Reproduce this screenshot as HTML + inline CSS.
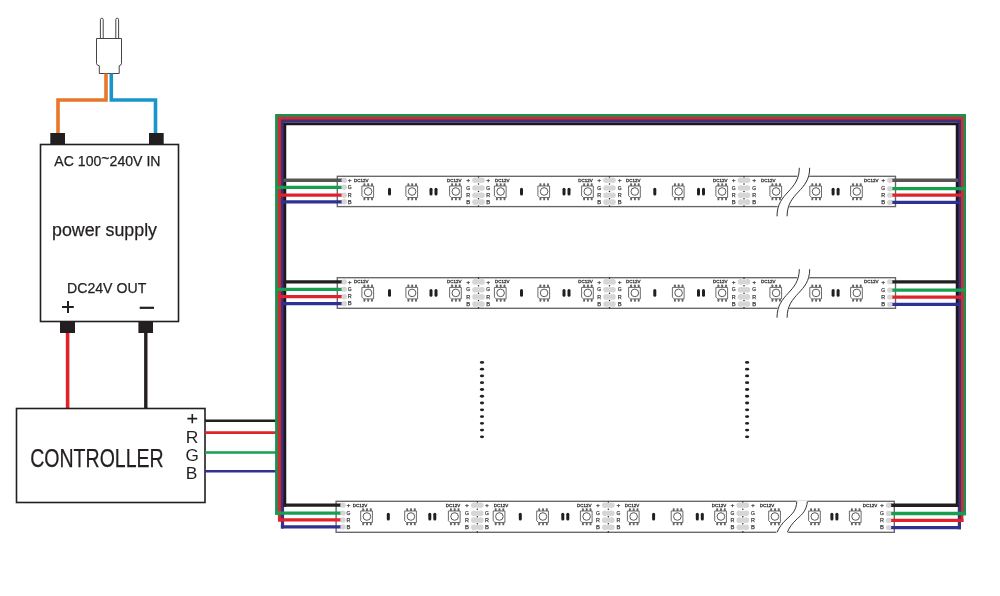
<!DOCTYPE html><html><head><meta charset="utf-8"><style>html,body{margin:0;padding:0;background:#fff;width:1000px;height:596px;overflow:hidden}svg{display:block;will-change:transform}text{font-family:"Liberation Sans",sans-serif}</style></head><body>
<svg width="1000" height="596" viewBox="0 0 1000 596">
<g fill="none" stroke="#444" stroke-width="1">
<path d="M96.5 38.5 H121.5 V63.5 Q121.5 65.2 119.2 65.8 V73.5 H99.3 V65.8 Q96.5 65.2 96.5 63.5 Z" fill="#fff"/>
<path d="M100.4 38.5 V19.6 A1.4 1.4 0 0 1 103.2 19.6 V38.5"/>
<path d="M115.8 38.5 V19.6 A1.4 1.4 0 0 1 118.6 19.6 V38.5"/>
</g>
<path d="M106 73.5 V100 H58 V134" fill="none" stroke="#e8772a" stroke-width="3.6"/>
<path d="M111.3 73.5 V100 H155.5 V134" fill="none" stroke="#1a95cb" stroke-width="3.6"/>
<rect x="50.3" y="133" width="14.7" height="11.5" fill="#231f20"/>
<rect x="149" y="133" width="14.7" height="11.5" fill="#231f20"/>
<rect x="40.5" y="144.5" width="138" height="177" fill="none" stroke="#231f20" stroke-width="1.6"/>
<text x="54.3" y="165.8" font-size="14.1" fill="#231f20" stroke="#231f20" stroke-width="0.25">AC 100<tspan dy="-3.2">~</tspan><tspan dy="3.2">240V IN</tspan></text>
<text x="52" y="236.2" font-size="18" fill="#231f20" stroke="#231f20" stroke-width="0.25" textLength="105" lengthAdjust="spacingAndGlyphs">power supply</text>
<text x="67" y="293.1" font-size="14.4" fill="#231f20" stroke="#231f20" stroke-width="0.25" textLength="79.3" lengthAdjust="spacingAndGlyphs">DC24V OUT</text>
<path d="M62 307 H73.8 M68 301 V313" stroke="#231f20" stroke-width="2"/>
<path d="M139.7 307.8 H154" stroke="#231f20" stroke-width="2.2"/>
<rect x="60" y="321" width="15" height="12" fill="#231f20"/>
<rect x="138.4" y="321" width="14.6" height="12" fill="#231f20"/>
<path d="M67.6 333 V408" stroke="#e0232b" stroke-width="3.6"/>
<path d="M145.8 333 V408" stroke="#231f20" stroke-width="3.4"/>
<rect x="16.5" y="408.5" width="188.5" height="94" fill="none" stroke="#231f20" stroke-width="1.6"/>
<text x="30.2" y="467" font-size="25" fill="#231f20" stroke="#231f20" stroke-width="0.25" textLength="133.5" lengthAdjust="spacingAndGlyphs">CONTROLLER</text>
<path d="M187.4 418.6 H197.2 M192.3 414 V423.2" stroke="#231f20" stroke-width="1.6"/>
<text transform="translate(185.7 442.7) scale(1.12 1)" font-size="15.6" fill="#231f20">R</text>
<text transform="translate(185.6 460.9) scale(1.1 1)" font-size="15.6" fill="#231f20">G</text>
<text transform="translate(185.8 479.4) scale(1.12 1)" font-size="15.6" fill="#231f20">B</text>
<path d="M205 420.7 H276" stroke="#231f20" stroke-width="2.6"/>
<path d="M205 432.6 H276" stroke="#e0232b" stroke-width="2.6"/>
<path d="M205 452.5 H276" stroke="#16a04e" stroke-width="2.6"/>
<path d="M205 471.2 H276" stroke="#2e3192" stroke-width="2.6"/>
<path d="M276.7 514.75 V115.6 H964.4 V515.15" fill="none" stroke="#1f8f50" stroke-width="3.2"/>
<path d="M279.5 521.6 V118.4 H961.8 V522.05" fill="none" stroke="#d02a32" stroke-width="3.2"/>
<path d="M282.5 528.55 V121.2 H959.4 V529.25" fill="none" stroke="#40307a" stroke-width="3.2"/>
<path d="M284.9 506.8 V124 H957.1 V506.9" fill="none" stroke="#1c171c" stroke-width="2.7"/>
<ellipse cx="482" cy="362.40" rx="2.1" ry="1.4" fill="#231f20"/>
<ellipse cx="482" cy="369.17" rx="2.1" ry="1.4" fill="#231f20"/>
<ellipse cx="482" cy="375.94" rx="2.1" ry="1.4" fill="#231f20"/>
<ellipse cx="482" cy="382.71" rx="2.1" ry="1.4" fill="#231f20"/>
<ellipse cx="482" cy="389.48" rx="2.1" ry="1.4" fill="#231f20"/>
<ellipse cx="482" cy="396.25" rx="2.1" ry="1.4" fill="#231f20"/>
<ellipse cx="482" cy="403.02" rx="2.1" ry="1.4" fill="#231f20"/>
<ellipse cx="482" cy="409.79" rx="2.1" ry="1.4" fill="#231f20"/>
<ellipse cx="482" cy="416.56" rx="2.1" ry="1.4" fill="#231f20"/>
<ellipse cx="482" cy="423.33" rx="2.1" ry="1.4" fill="#231f20"/>
<ellipse cx="482" cy="430.10" rx="2.1" ry="1.4" fill="#231f20"/>
<ellipse cx="482" cy="436.87" rx="2.1" ry="1.4" fill="#231f20"/>
<ellipse cx="747.1" cy="362.40" rx="2.1" ry="1.4" fill="#231f20"/>
<ellipse cx="747.1" cy="369.17" rx="2.1" ry="1.4" fill="#231f20"/>
<ellipse cx="747.1" cy="375.94" rx="2.1" ry="1.4" fill="#231f20"/>
<ellipse cx="747.1" cy="382.71" rx="2.1" ry="1.4" fill="#231f20"/>
<ellipse cx="747.1" cy="389.48" rx="2.1" ry="1.4" fill="#231f20"/>
<ellipse cx="747.1" cy="396.25" rx="2.1" ry="1.4" fill="#231f20"/>
<ellipse cx="747.1" cy="403.02" rx="2.1" ry="1.4" fill="#231f20"/>
<ellipse cx="747.1" cy="409.79" rx="2.1" ry="1.4" fill="#231f20"/>
<ellipse cx="747.1" cy="416.56" rx="2.1" ry="1.4" fill="#231f20"/>
<ellipse cx="747.1" cy="423.33" rx="2.1" ry="1.4" fill="#231f20"/>
<ellipse cx="747.1" cy="430.10" rx="2.1" ry="1.4" fill="#231f20"/>
<ellipse cx="747.1" cy="436.87" rx="2.1" ry="1.4" fill="#231f20"/>
<g transform="translate(0 176.3)"><rect x="337.3" y="0" width="558.2" height="30.3" fill="#fff" stroke="#666" stroke-width="1.35"/><path d="M283.5 3.9499999999999886 H343" stroke="#555" stroke-width="3.3"/><path d="M891 3.9499999999999886 H958.3" stroke="#555" stroke-width="3.3"/><path d="M275.1 11.0 H343" stroke="#16a04e" stroke-width="3.3"/><path d="M891 12.399999999999977 H966.1" stroke="#16a04e" stroke-width="3.3"/><path d="M278.1 18.899999999999977 H343" stroke="#e0232b" stroke-width="3.3"/><path d="M891 18.899999999999977 H963.4" stroke="#e0232b" stroke-width="3.3"/><path d="M280.9 25.5 H343" stroke="#2e3192" stroke-width="3.3"/><path d="M891 26.099999999999994 H960.9" stroke="#2e3192" stroke-width="3.3"/><circle cx="344.2" cy="3.9499999999999886" r="2.7" fill="#d6d6d6"/><circle cx="344.2" cy="11.0" r="2.7" fill="#d6d6d6"/><circle cx="344.2" cy="18.899999999999977" r="2.7" fill="#d6d6d6"/><circle cx="344.2" cy="25.5" r="2.7" fill="#d6d6d6"/><circle cx="889.8" cy="3.9499999999999886" r="2.7" fill="#d6d6d6"/><circle cx="889.8" cy="12.399999999999977" r="2.7" fill="#d6d6d6"/><circle cx="889.8" cy="18.899999999999977" r="2.7" fill="#d6d6d6"/><circle cx="889.8" cy="26.099999999999994" r="2.7" fill="#d6d6d6"/><text x="347.8" y="5.7499999999999885" font-size="5.2" fill="#444" stroke="#444" stroke-width="0.25" textLength="3.9" lengthAdjust="spacingAndGlyphs">+</text><text x="347.8" y="12.8" font-size="5.2" fill="#444" stroke="#444" stroke-width="0.25" textLength="3.9" lengthAdjust="spacingAndGlyphs">G</text><text x="347.8" y="20.699999999999978" font-size="5.2" fill="#444" stroke="#444" stroke-width="0.25" textLength="3.9" lengthAdjust="spacingAndGlyphs">R</text><text x="347.8" y="27.3" font-size="5.2" fill="#444" stroke="#444" stroke-width="0.25" textLength="3.9" lengthAdjust="spacingAndGlyphs">B</text><text x="466.3" y="5.7499999999999885" font-size="5.2" fill="#444" stroke="#444" stroke-width="0.25" textLength="3.9" lengthAdjust="spacingAndGlyphs">+</text><text x="466.3" y="13.49999999999999" font-size="5.2" fill="#444" stroke="#444" stroke-width="0.25" textLength="3.9" lengthAdjust="spacingAndGlyphs">G</text><text x="466.3" y="20.699999999999978" font-size="5.2" fill="#444" stroke="#444" stroke-width="0.25" textLength="3.9" lengthAdjust="spacingAndGlyphs">R</text><text x="466.3" y="27.599999999999998" font-size="5.2" fill="#444" stroke="#444" stroke-width="0.25" textLength="3.9" lengthAdjust="spacingAndGlyphs">B</text><text x="486.3" y="5.7499999999999885" font-size="5.2" fill="#444" stroke="#444" stroke-width="0.25" textLength="3.9" lengthAdjust="spacingAndGlyphs">+</text><text x="486.3" y="13.49999999999999" font-size="5.2" fill="#444" stroke="#444" stroke-width="0.25" textLength="3.9" lengthAdjust="spacingAndGlyphs">G</text><text x="486.3" y="20.699999999999978" font-size="5.2" fill="#444" stroke="#444" stroke-width="0.25" textLength="3.9" lengthAdjust="spacingAndGlyphs">R</text><text x="486.3" y="27.599999999999998" font-size="5.2" fill="#444" stroke="#444" stroke-width="0.25" textLength="3.9" lengthAdjust="spacingAndGlyphs">B</text><text x="597.3" y="5.7499999999999885" font-size="5.2" fill="#444" stroke="#444" stroke-width="0.25" textLength="3.9" lengthAdjust="spacingAndGlyphs">+</text><text x="597.3" y="13.49999999999999" font-size="5.2" fill="#444" stroke="#444" stroke-width="0.25" textLength="3.9" lengthAdjust="spacingAndGlyphs">G</text><text x="597.3" y="20.699999999999978" font-size="5.2" fill="#444" stroke="#444" stroke-width="0.25" textLength="3.9" lengthAdjust="spacingAndGlyphs">R</text><text x="597.3" y="27.599999999999998" font-size="5.2" fill="#444" stroke="#444" stroke-width="0.25" textLength="3.9" lengthAdjust="spacingAndGlyphs">B</text><text x="617.8" y="5.7499999999999885" font-size="5.2" fill="#444" stroke="#444" stroke-width="0.25" textLength="3.9" lengthAdjust="spacingAndGlyphs">+</text><text x="617.8" y="13.49999999999999" font-size="5.2" fill="#444" stroke="#444" stroke-width="0.25" textLength="3.9" lengthAdjust="spacingAndGlyphs">G</text><text x="617.8" y="20.699999999999978" font-size="5.2" fill="#444" stroke="#444" stroke-width="0.25" textLength="3.9" lengthAdjust="spacingAndGlyphs">R</text><text x="617.8" y="27.599999999999998" font-size="5.2" fill="#444" stroke="#444" stroke-width="0.25" textLength="3.9" lengthAdjust="spacingAndGlyphs">B</text><text x="731.8" y="5.7499999999999885" font-size="5.2" fill="#444" stroke="#444" stroke-width="0.25" textLength="3.9" lengthAdjust="spacingAndGlyphs">+</text><text x="731.8" y="13.49999999999999" font-size="5.2" fill="#444" stroke="#444" stroke-width="0.25" textLength="3.9" lengthAdjust="spacingAndGlyphs">G</text><text x="731.8" y="20.699999999999978" font-size="5.2" fill="#444" stroke="#444" stroke-width="0.25" textLength="3.9" lengthAdjust="spacingAndGlyphs">R</text><text x="731.8" y="27.599999999999998" font-size="5.2" fill="#444" stroke="#444" stroke-width="0.25" textLength="3.9" lengthAdjust="spacingAndGlyphs">B</text><text x="752.3" y="5.7499999999999885" font-size="5.2" fill="#444" stroke="#444" stroke-width="0.25" textLength="3.9" lengthAdjust="spacingAndGlyphs">+</text><text x="752.3" y="13.49999999999999" font-size="5.2" fill="#444" stroke="#444" stroke-width="0.25" textLength="3.9" lengthAdjust="spacingAndGlyphs">G</text><text x="752.3" y="20.699999999999978" font-size="5.2" fill="#444" stroke="#444" stroke-width="0.25" textLength="3.9" lengthAdjust="spacingAndGlyphs">R</text><text x="752.3" y="27.599999999999998" font-size="5.2" fill="#444" stroke="#444" stroke-width="0.25" textLength="3.9" lengthAdjust="spacingAndGlyphs">B</text><text x="881.1999999999999" y="5.7499999999999885" font-size="5.2" fill="#444" stroke="#444" stroke-width="0.25" textLength="3.9" lengthAdjust="spacingAndGlyphs">+</text><text x="881.1999999999999" y="14.199999999999978" font-size="5.2" fill="#444" stroke="#444" stroke-width="0.25" textLength="3.9" lengthAdjust="spacingAndGlyphs">G</text><text x="881.1999999999999" y="20.699999999999978" font-size="5.2" fill="#444" stroke="#444" stroke-width="0.25" textLength="3.9" lengthAdjust="spacingAndGlyphs">R</text><text x="881.1999999999999" y="27.899999999999995" font-size="5.2" fill="#444" stroke="#444" stroke-width="0.25" textLength="3.9" lengthAdjust="spacingAndGlyphs">B</text><text x="354" y="5.5" font-size="4.4" fill="#333" stroke="#333" stroke-width="0.28" textLength="14.5" lengthAdjust="spacingAndGlyphs">DC12V</text><text x="447" y="5.5" font-size="4.4" fill="#333" stroke="#333" stroke-width="0.28" textLength="14.5" lengthAdjust="spacingAndGlyphs">DC12V</text><text x="495" y="5.5" font-size="4.4" fill="#333" stroke="#333" stroke-width="0.28" textLength="14.5" lengthAdjust="spacingAndGlyphs">DC12V</text><text x="578.2" y="5.5" font-size="4.4" fill="#333" stroke="#333" stroke-width="0.28" textLength="14.5" lengthAdjust="spacingAndGlyphs">DC12V</text><text x="626" y="5.5" font-size="4.4" fill="#333" stroke="#333" stroke-width="0.28" textLength="14.5" lengthAdjust="spacingAndGlyphs">DC12V</text><text x="713" y="5.5" font-size="4.4" fill="#333" stroke="#333" stroke-width="0.28" textLength="14.5" lengthAdjust="spacingAndGlyphs">DC12V</text><text x="761" y="5.5" font-size="4.4" fill="#333" stroke="#333" stroke-width="0.28" textLength="14.5" lengthAdjust="spacingAndGlyphs">DC12V</text><text x="864" y="5.5" font-size="4.4" fill="#333" stroke="#333" stroke-width="0.28" textLength="14.5" lengthAdjust="spacingAndGlyphs">DC12V</text><circle cx="475.0" cy="3.9499999999999886" r="2.8" fill="#d6d6d6"/><circle cx="482.0" cy="3.9499999999999886" r="2.8" fill="#d6d6d6"/><rect x="475.0" y="1.5499999999999887" width="7" height="4.8" fill="#d6d6d6"/><circle cx="475.0" cy="11.699999999999989" r="2.8" fill="#d6d6d6"/><circle cx="482.0" cy="11.699999999999989" r="2.8" fill="#d6d6d6"/><rect x="475.0" y="9.299999999999988" width="7" height="4.8" fill="#d6d6d6"/><circle cx="475.0" cy="18.899999999999977" r="2.8" fill="#d6d6d6"/><circle cx="482.0" cy="18.899999999999977" r="2.8" fill="#d6d6d6"/><rect x="475.0" y="16.49999999999998" width="7" height="4.8" fill="#d6d6d6"/><circle cx="475.0" cy="25.799999999999997" r="2.8" fill="#d6d6d6"/><circle cx="482.0" cy="25.799999999999997" r="2.8" fill="#d6d6d6"/><rect x="475.0" y="23.4" width="7" height="4.8" fill="#d6d6d6"/><circle cx="478.5" cy="0.60" r="0.75" fill="#222"/><circle cx="478.5" cy="7.82" r="0.75" fill="#222"/><circle cx="478.5" cy="15.30" r="0.75" fill="#222"/><circle cx="478.5" cy="22.35" r="0.75" fill="#222"/><circle cx="478.5" cy="29.70" r="0.75" fill="#222"/><circle cx="606.0" cy="3.9499999999999886" r="2.8" fill="#d6d6d6"/><circle cx="613.0" cy="3.9499999999999886" r="2.8" fill="#d6d6d6"/><rect x="606.0" y="1.5499999999999887" width="7" height="4.8" fill="#d6d6d6"/><circle cx="606.0" cy="11.699999999999989" r="2.8" fill="#d6d6d6"/><circle cx="613.0" cy="11.699999999999989" r="2.8" fill="#d6d6d6"/><rect x="606.0" y="9.299999999999988" width="7" height="4.8" fill="#d6d6d6"/><circle cx="606.0" cy="18.899999999999977" r="2.8" fill="#d6d6d6"/><circle cx="613.0" cy="18.899999999999977" r="2.8" fill="#d6d6d6"/><rect x="606.0" y="16.49999999999998" width="7" height="4.8" fill="#d6d6d6"/><circle cx="606.0" cy="25.799999999999997" r="2.8" fill="#d6d6d6"/><circle cx="613.0" cy="25.799999999999997" r="2.8" fill="#d6d6d6"/><rect x="606.0" y="23.4" width="7" height="4.8" fill="#d6d6d6"/><circle cx="609.5" cy="0.60" r="0.75" fill="#222"/><circle cx="609.5" cy="7.82" r="0.75" fill="#222"/><circle cx="609.5" cy="15.30" r="0.75" fill="#222"/><circle cx="609.5" cy="22.35" r="0.75" fill="#222"/><circle cx="609.5" cy="29.70" r="0.75" fill="#222"/><circle cx="740.5" cy="3.9499999999999886" r="2.8" fill="#d6d6d6"/><circle cx="747.5" cy="3.9499999999999886" r="2.8" fill="#d6d6d6"/><rect x="740.5" y="1.5499999999999887" width="7" height="4.8" fill="#d6d6d6"/><circle cx="740.5" cy="11.699999999999989" r="2.8" fill="#d6d6d6"/><circle cx="747.5" cy="11.699999999999989" r="2.8" fill="#d6d6d6"/><rect x="740.5" y="9.299999999999988" width="7" height="4.8" fill="#d6d6d6"/><circle cx="740.5" cy="18.899999999999977" r="2.8" fill="#d6d6d6"/><circle cx="747.5" cy="18.899999999999977" r="2.8" fill="#d6d6d6"/><rect x="740.5" y="16.49999999999998" width="7" height="4.8" fill="#d6d6d6"/><circle cx="740.5" cy="25.799999999999997" r="2.8" fill="#d6d6d6"/><circle cx="747.5" cy="25.799999999999997" r="2.8" fill="#d6d6d6"/><rect x="740.5" y="23.4" width="7" height="4.8" fill="#d6d6d6"/><circle cx="744" cy="0.60" r="0.75" fill="#222"/><circle cx="744" cy="7.82" r="0.75" fill="#222"/><circle cx="744" cy="15.30" r="0.75" fill="#222"/><circle cx="744" cy="22.35" r="0.75" fill="#222"/><circle cx="744" cy="29.70" r="0.75" fill="#222"/><rect x="363.45" y="6.9" width="1.9" height="2.8" rx="0.6" fill="#666"/><rect x="363.45" y="21.2" width="1.9" height="2.8" rx="0.6" fill="#666"/><rect x="367.25" y="6.9" width="1.9" height="2.8" rx="0.6" fill="#666"/><rect x="367.25" y="21.2" width="1.9" height="2.8" rx="0.6" fill="#666"/><rect x="371.05" y="6.9" width="1.9" height="2.8" rx="0.6" fill="#666"/><rect x="371.05" y="21.2" width="1.9" height="2.8" rx="0.6" fill="#666"/><path d="M361.9 9.7 H373.6 V21.2 H363.7 L361.9 19.4 Z" fill="#fff" stroke="#5a5a5a" stroke-width="0.9"/><circle cx="368.1" cy="15.2" r="3.8" fill="none" stroke="#505050" stroke-width="0.95"/><rect x="407.45" y="6.9" width="1.9" height="2.8" rx="0.6" fill="#666"/><rect x="407.45" y="21.2" width="1.9" height="2.8" rx="0.6" fill="#666"/><rect x="411.25" y="6.9" width="1.9" height="2.8" rx="0.6" fill="#666"/><rect x="411.25" y="21.2" width="1.9" height="2.8" rx="0.6" fill="#666"/><rect x="415.05" y="6.9" width="1.9" height="2.8" rx="0.6" fill="#666"/><rect x="415.05" y="21.2" width="1.9" height="2.8" rx="0.6" fill="#666"/><path d="M405.9 9.7 H417.6 V21.2 H407.7 L405.9 19.4 Z" fill="#fff" stroke="#5a5a5a" stroke-width="0.9"/><circle cx="412.1" cy="15.2" r="3.8" fill="none" stroke="#505050" stroke-width="0.95"/><rect x="451.15" y="6.9" width="1.9" height="2.8" rx="0.6" fill="#666"/><rect x="451.15" y="21.2" width="1.9" height="2.8" rx="0.6" fill="#666"/><rect x="454.95" y="6.9" width="1.9" height="2.8" rx="0.6" fill="#666"/><rect x="454.95" y="21.2" width="1.9" height="2.8" rx="0.6" fill="#666"/><rect x="458.75" y="6.9" width="1.9" height="2.8" rx="0.6" fill="#666"/><rect x="458.75" y="21.2" width="1.9" height="2.8" rx="0.6" fill="#666"/><path d="M449.59999999999997 9.7 H461.3 V21.2 H451.4 L449.59999999999997 19.4 Z" fill="#fff" stroke="#5a5a5a" stroke-width="0.9"/><circle cx="455.8" cy="15.2" r="3.8" fill="none" stroke="#505050" stroke-width="0.95"/><rect x="495.95" y="6.9" width="1.9" height="2.8" rx="0.6" fill="#666"/><rect x="495.95" y="21.2" width="1.9" height="2.8" rx="0.6" fill="#666"/><rect x="499.75" y="6.9" width="1.9" height="2.8" rx="0.6" fill="#666"/><rect x="499.75" y="21.2" width="1.9" height="2.8" rx="0.6" fill="#666"/><rect x="503.55" y="6.9" width="1.9" height="2.8" rx="0.6" fill="#666"/><rect x="503.55" y="21.2" width="1.9" height="2.8" rx="0.6" fill="#666"/><path d="M494.4 9.7 H506.1 V21.2 H496.2 L494.4 19.4 Z" fill="#fff" stroke="#5a5a5a" stroke-width="0.9"/><circle cx="500.6" cy="15.2" r="3.8" fill="none" stroke="#505050" stroke-width="0.95"/><rect x="539.45" y="6.9" width="1.9" height="2.8" rx="0.6" fill="#666"/><rect x="539.45" y="21.2" width="1.9" height="2.8" rx="0.6" fill="#666"/><rect x="543.25" y="6.9" width="1.9" height="2.8" rx="0.6" fill="#666"/><rect x="543.25" y="21.2" width="1.9" height="2.8" rx="0.6" fill="#666"/><rect x="547.0500000000001" y="6.9" width="1.9" height="2.8" rx="0.6" fill="#666"/><rect x="547.0500000000001" y="21.2" width="1.9" height="2.8" rx="0.6" fill="#666"/><path d="M537.9 9.7 H549.6 V21.2 H539.7 L537.9 19.4 Z" fill="#fff" stroke="#5a5a5a" stroke-width="0.9"/><circle cx="544.1" cy="15.2" r="3.8" fill="none" stroke="#505050" stroke-width="0.95"/><rect x="583.1500000000001" y="6.9" width="1.9" height="2.8" rx="0.6" fill="#666"/><rect x="583.1500000000001" y="21.2" width="1.9" height="2.8" rx="0.6" fill="#666"/><rect x="586.95" y="6.9" width="1.9" height="2.8" rx="0.6" fill="#666"/><rect x="586.95" y="21.2" width="1.9" height="2.8" rx="0.6" fill="#666"/><rect x="590.7500000000001" y="6.9" width="1.9" height="2.8" rx="0.6" fill="#666"/><rect x="590.7500000000001" y="21.2" width="1.9" height="2.8" rx="0.6" fill="#666"/><path d="M581.6 9.7 H593.3000000000001 V21.2 H583.4000000000001 L581.6 19.4 Z" fill="#fff" stroke="#5a5a5a" stroke-width="0.9"/><circle cx="587.8000000000001" cy="15.2" r="3.8" fill="none" stroke="#505050" stroke-width="0.95"/><rect x="630.1500000000001" y="6.9" width="1.9" height="2.8" rx="0.6" fill="#666"/><rect x="630.1500000000001" y="21.2" width="1.9" height="2.8" rx="0.6" fill="#666"/><rect x="633.95" y="6.9" width="1.9" height="2.8" rx="0.6" fill="#666"/><rect x="633.95" y="21.2" width="1.9" height="2.8" rx="0.6" fill="#666"/><rect x="637.7500000000001" y="6.9" width="1.9" height="2.8" rx="0.6" fill="#666"/><rect x="637.7500000000001" y="21.2" width="1.9" height="2.8" rx="0.6" fill="#666"/><path d="M628.6 9.7 H640.3000000000001 V21.2 H630.4000000000001 L628.6 19.4 Z" fill="#fff" stroke="#5a5a5a" stroke-width="0.9"/><circle cx="634.8000000000001" cy="15.2" r="3.8" fill="none" stroke="#505050" stroke-width="0.95"/><rect x="673.95" y="6.9" width="1.9" height="2.8" rx="0.6" fill="#666"/><rect x="673.95" y="21.2" width="1.9" height="2.8" rx="0.6" fill="#666"/><rect x="677.75" y="6.9" width="1.9" height="2.8" rx="0.6" fill="#666"/><rect x="677.75" y="21.2" width="1.9" height="2.8" rx="0.6" fill="#666"/><rect x="681.5500000000001" y="6.9" width="1.9" height="2.8" rx="0.6" fill="#666"/><rect x="681.5500000000001" y="21.2" width="1.9" height="2.8" rx="0.6" fill="#666"/><path d="M672.4 9.7 H684.1 V21.2 H674.2 L672.4 19.4 Z" fill="#fff" stroke="#5a5a5a" stroke-width="0.9"/><circle cx="678.6" cy="15.2" r="3.8" fill="none" stroke="#505050" stroke-width="0.95"/><rect x="717.45" y="6.9" width="1.9" height="2.8" rx="0.6" fill="#666"/><rect x="717.45" y="21.2" width="1.9" height="2.8" rx="0.6" fill="#666"/><rect x="721.25" y="6.9" width="1.9" height="2.8" rx="0.6" fill="#666"/><rect x="721.25" y="21.2" width="1.9" height="2.8" rx="0.6" fill="#666"/><rect x="725.0500000000001" y="6.9" width="1.9" height="2.8" rx="0.6" fill="#666"/><rect x="725.0500000000001" y="21.2" width="1.9" height="2.8" rx="0.6" fill="#666"/><path d="M715.9 9.7 H727.6 V21.2 H717.7 L715.9 19.4 Z" fill="#fff" stroke="#5a5a5a" stroke-width="0.9"/><circle cx="722.1" cy="15.2" r="3.8" fill="none" stroke="#505050" stroke-width="0.95"/><rect x="771.45" y="6.9" width="1.9" height="2.8" rx="0.6" fill="#666"/><rect x="771.45" y="21.2" width="1.9" height="2.8" rx="0.6" fill="#666"/><rect x="775.25" y="6.9" width="1.9" height="2.8" rx="0.6" fill="#666"/><rect x="775.25" y="21.2" width="1.9" height="2.8" rx="0.6" fill="#666"/><rect x="779.0500000000001" y="6.9" width="1.9" height="2.8" rx="0.6" fill="#666"/><rect x="779.0500000000001" y="21.2" width="1.9" height="2.8" rx="0.6" fill="#666"/><path d="M769.9 9.7 H781.6 V21.2 H771.7 L769.9 19.4 Z" fill="#fff" stroke="#5a5a5a" stroke-width="0.9"/><circle cx="776.1" cy="15.2" r="3.8" fill="none" stroke="#505050" stroke-width="0.95"/><rect x="811.35" y="6.9" width="1.9" height="2.8" rx="0.6" fill="#666"/><rect x="811.35" y="21.2" width="1.9" height="2.8" rx="0.6" fill="#666"/><rect x="815.15" y="6.9" width="1.9" height="2.8" rx="0.6" fill="#666"/><rect x="815.15" y="21.2" width="1.9" height="2.8" rx="0.6" fill="#666"/><rect x="818.95" y="6.9" width="1.9" height="2.8" rx="0.6" fill="#666"/><rect x="818.95" y="21.2" width="1.9" height="2.8" rx="0.6" fill="#666"/><path d="M809.8 9.7 H821.5 V21.2 H811.6 L809.8 19.4 Z" fill="#fff" stroke="#5a5a5a" stroke-width="0.9"/><circle cx="816.0" cy="15.2" r="3.8" fill="none" stroke="#505050" stroke-width="0.95"/><rect x="852.1500000000001" y="6.9" width="1.9" height="2.8" rx="0.6" fill="#666"/><rect x="852.1500000000001" y="21.2" width="1.9" height="2.8" rx="0.6" fill="#666"/><rect x="855.95" y="6.9" width="1.9" height="2.8" rx="0.6" fill="#666"/><rect x="855.95" y="21.2" width="1.9" height="2.8" rx="0.6" fill="#666"/><rect x="859.7500000000001" y="6.9" width="1.9" height="2.8" rx="0.6" fill="#666"/><rect x="859.7500000000001" y="21.2" width="1.9" height="2.8" rx="0.6" fill="#666"/><path d="M850.6 9.7 H862.3000000000001 V21.2 H852.4000000000001 L850.6 19.4 Z" fill="#fff" stroke="#5a5a5a" stroke-width="0.9"/><circle cx="856.8000000000001" cy="15.2" r="3.8" fill="none" stroke="#505050" stroke-width="0.95"/><rect x="388" y="11.4" width="3" height="7.7" rx="1.5" fill="#231f20"/><rect x="520" y="11.4" width="3" height="7.7" rx="1.5" fill="#231f20"/><rect x="653.3" y="11.4" width="3" height="7.7" rx="1.5" fill="#231f20"/><rect x="429.5" y="11.4" width="3" height="7.7" rx="1.5" fill="#231f20"/><rect x="434.5" y="11.4" width="3" height="7.7" rx="1.5" fill="#231f20"/><rect x="562.5" y="11.4" width="3" height="7.7" rx="1.5" fill="#231f20"/><rect x="567.5" y="11.4" width="3" height="7.7" rx="1.5" fill="#231f20"/><rect x="697" y="11.4" width="3" height="7.7" rx="1.5" fill="#231f20"/><rect x="702" y="11.4" width="3" height="7.7" rx="1.5" fill="#231f20"/><rect x="831.6" y="11.4" width="3" height="7.7" rx="1.5" fill="#231f20"/><rect x="836.6" y="11.4" width="3" height="7.7" rx="1.5" fill="#231f20"/><path d="M799.3 -8.5 C799.3 15.5, 777 15.5, 777 40 L787.1 40 C787.1 15.5, 809.7 15.5, 809.7 -8.5 Z" fill="#fff" stroke="#fff" stroke-width="1.6"/><path d="M799.3 -8.5 C799.3 15.5, 777 15.5, 777 40" fill="none" stroke="#333" stroke-width="1"/><path d="M809.7 -8.5 C809.7 15.5, 787.1 15.5, 787.1 40" fill="none" stroke="#333" stroke-width="1"/></g>
<g transform="translate(0 277.7)"><rect x="337.3" y="0" width="558.2" height="30.6" fill="#fff" stroke="#666" stroke-width="1.35"/><path d="M283.5 4.199999999999989 H343" stroke="#231f20" stroke-width="3.3"/><path d="M891 4.150000000000034 H958.3" stroke="#231f20" stroke-width="3.3"/><path d="M275.1 11.600000000000023 H343" stroke="#16a04e" stroke-width="3.3"/><path d="M891 12.400000000000034 H966.1" stroke="#16a04e" stroke-width="3.3"/><path d="M278.1 19.0 H343" stroke="#e0232b" stroke-width="3.3"/><path d="M891 19.400000000000034 H963.4" stroke="#e0232b" stroke-width="3.3"/><path d="M280.9 26.0 H343" stroke="#2e3192" stroke-width="3.3"/><path d="M891 26.650000000000034 H960.9" stroke="#2e3192" stroke-width="3.3"/><circle cx="344.2" cy="4.199999999999989" r="2.7" fill="#d6d6d6"/><circle cx="344.2" cy="11.600000000000023" r="2.7" fill="#d6d6d6"/><circle cx="344.2" cy="19.0" r="2.7" fill="#d6d6d6"/><circle cx="344.2" cy="26.0" r="2.7" fill="#d6d6d6"/><circle cx="889.8" cy="4.150000000000034" r="2.7" fill="#d6d6d6"/><circle cx="889.8" cy="12.400000000000034" r="2.7" fill="#d6d6d6"/><circle cx="889.8" cy="19.400000000000034" r="2.7" fill="#d6d6d6"/><circle cx="889.8" cy="26.650000000000034" r="2.7" fill="#d6d6d6"/><text x="347.8" y="5.9999999999999885" font-size="5.2" fill="#444" stroke="#444" stroke-width="0.25" textLength="3.9" lengthAdjust="spacingAndGlyphs">+</text><text x="347.8" y="13.400000000000023" font-size="5.2" fill="#444" stroke="#444" stroke-width="0.25" textLength="3.9" lengthAdjust="spacingAndGlyphs">G</text><text x="347.8" y="20.8" font-size="5.2" fill="#444" stroke="#444" stroke-width="0.25" textLength="3.9" lengthAdjust="spacingAndGlyphs">R</text><text x="347.8" y="27.8" font-size="5.2" fill="#444" stroke="#444" stroke-width="0.25" textLength="3.9" lengthAdjust="spacingAndGlyphs">B</text><text x="466.3" y="5.975000000000011" font-size="5.2" fill="#444" stroke="#444" stroke-width="0.25" textLength="3.9" lengthAdjust="spacingAndGlyphs">+</text><text x="466.3" y="13.80000000000003" font-size="5.2" fill="#444" stroke="#444" stroke-width="0.25" textLength="3.9" lengthAdjust="spacingAndGlyphs">G</text><text x="466.3" y="21.000000000000018" font-size="5.2" fill="#444" stroke="#444" stroke-width="0.25" textLength="3.9" lengthAdjust="spacingAndGlyphs">R</text><text x="466.3" y="28.125000000000018" font-size="5.2" fill="#444" stroke="#444" stroke-width="0.25" textLength="3.9" lengthAdjust="spacingAndGlyphs">B</text><text x="486.3" y="5.975000000000011" font-size="5.2" fill="#444" stroke="#444" stroke-width="0.25" textLength="3.9" lengthAdjust="spacingAndGlyphs">+</text><text x="486.3" y="13.80000000000003" font-size="5.2" fill="#444" stroke="#444" stroke-width="0.25" textLength="3.9" lengthAdjust="spacingAndGlyphs">G</text><text x="486.3" y="21.000000000000018" font-size="5.2" fill="#444" stroke="#444" stroke-width="0.25" textLength="3.9" lengthAdjust="spacingAndGlyphs">R</text><text x="486.3" y="28.125000000000018" font-size="5.2" fill="#444" stroke="#444" stroke-width="0.25" textLength="3.9" lengthAdjust="spacingAndGlyphs">B</text><text x="597.3" y="5.975000000000011" font-size="5.2" fill="#444" stroke="#444" stroke-width="0.25" textLength="3.9" lengthAdjust="spacingAndGlyphs">+</text><text x="597.3" y="13.80000000000003" font-size="5.2" fill="#444" stroke="#444" stroke-width="0.25" textLength="3.9" lengthAdjust="spacingAndGlyphs">G</text><text x="597.3" y="21.000000000000018" font-size="5.2" fill="#444" stroke="#444" stroke-width="0.25" textLength="3.9" lengthAdjust="spacingAndGlyphs">R</text><text x="597.3" y="28.125000000000018" font-size="5.2" fill="#444" stroke="#444" stroke-width="0.25" textLength="3.9" lengthAdjust="spacingAndGlyphs">B</text><text x="617.8" y="5.975000000000011" font-size="5.2" fill="#444" stroke="#444" stroke-width="0.25" textLength="3.9" lengthAdjust="spacingAndGlyphs">+</text><text x="617.8" y="13.80000000000003" font-size="5.2" fill="#444" stroke="#444" stroke-width="0.25" textLength="3.9" lengthAdjust="spacingAndGlyphs">G</text><text x="617.8" y="21.000000000000018" font-size="5.2" fill="#444" stroke="#444" stroke-width="0.25" textLength="3.9" lengthAdjust="spacingAndGlyphs">R</text><text x="617.8" y="28.125000000000018" font-size="5.2" fill="#444" stroke="#444" stroke-width="0.25" textLength="3.9" lengthAdjust="spacingAndGlyphs">B</text><text x="731.8" y="5.975000000000011" font-size="5.2" fill="#444" stroke="#444" stroke-width="0.25" textLength="3.9" lengthAdjust="spacingAndGlyphs">+</text><text x="731.8" y="13.80000000000003" font-size="5.2" fill="#444" stroke="#444" stroke-width="0.25" textLength="3.9" lengthAdjust="spacingAndGlyphs">G</text><text x="731.8" y="21.000000000000018" font-size="5.2" fill="#444" stroke="#444" stroke-width="0.25" textLength="3.9" lengthAdjust="spacingAndGlyphs">R</text><text x="731.8" y="28.125000000000018" font-size="5.2" fill="#444" stroke="#444" stroke-width="0.25" textLength="3.9" lengthAdjust="spacingAndGlyphs">B</text><text x="752.3" y="5.975000000000011" font-size="5.2" fill="#444" stroke="#444" stroke-width="0.25" textLength="3.9" lengthAdjust="spacingAndGlyphs">+</text><text x="752.3" y="13.80000000000003" font-size="5.2" fill="#444" stroke="#444" stroke-width="0.25" textLength="3.9" lengthAdjust="spacingAndGlyphs">G</text><text x="752.3" y="21.000000000000018" font-size="5.2" fill="#444" stroke="#444" stroke-width="0.25" textLength="3.9" lengthAdjust="spacingAndGlyphs">R</text><text x="752.3" y="28.125000000000018" font-size="5.2" fill="#444" stroke="#444" stroke-width="0.25" textLength="3.9" lengthAdjust="spacingAndGlyphs">B</text><text x="881.1999999999999" y="5.950000000000034" font-size="5.2" fill="#444" stroke="#444" stroke-width="0.25" textLength="3.9" lengthAdjust="spacingAndGlyphs">+</text><text x="881.1999999999999" y="14.200000000000035" font-size="5.2" fill="#444" stroke="#444" stroke-width="0.25" textLength="3.9" lengthAdjust="spacingAndGlyphs">G</text><text x="881.1999999999999" y="21.200000000000035" font-size="5.2" fill="#444" stroke="#444" stroke-width="0.25" textLength="3.9" lengthAdjust="spacingAndGlyphs">R</text><text x="881.1999999999999" y="28.450000000000035" font-size="5.2" fill="#444" stroke="#444" stroke-width="0.25" textLength="3.9" lengthAdjust="spacingAndGlyphs">B</text><text x="354" y="5.5" font-size="4.4" fill="#333" stroke="#333" stroke-width="0.28" textLength="14.5" lengthAdjust="spacingAndGlyphs">DC12V</text><text x="447" y="5.5" font-size="4.4" fill="#333" stroke="#333" stroke-width="0.28" textLength="14.5" lengthAdjust="spacingAndGlyphs">DC12V</text><text x="495" y="5.5" font-size="4.4" fill="#333" stroke="#333" stroke-width="0.28" textLength="14.5" lengthAdjust="spacingAndGlyphs">DC12V</text><text x="578.2" y="5.5" font-size="4.4" fill="#333" stroke="#333" stroke-width="0.28" textLength="14.5" lengthAdjust="spacingAndGlyphs">DC12V</text><text x="626" y="5.5" font-size="4.4" fill="#333" stroke="#333" stroke-width="0.28" textLength="14.5" lengthAdjust="spacingAndGlyphs">DC12V</text><text x="713" y="5.5" font-size="4.4" fill="#333" stroke="#333" stroke-width="0.28" textLength="14.5" lengthAdjust="spacingAndGlyphs">DC12V</text><text x="761" y="5.5" font-size="4.4" fill="#333" stroke="#333" stroke-width="0.28" textLength="14.5" lengthAdjust="spacingAndGlyphs">DC12V</text><text x="864" y="5.5" font-size="4.4" fill="#333" stroke="#333" stroke-width="0.28" textLength="14.5" lengthAdjust="spacingAndGlyphs">DC12V</text><circle cx="475.0" cy="4.175000000000011" r="2.8" fill="#d6d6d6"/><circle cx="482.0" cy="4.175000000000011" r="2.8" fill="#d6d6d6"/><rect x="475.0" y="1.7750000000000115" width="7" height="4.8" fill="#d6d6d6"/><circle cx="475.0" cy="12.000000000000028" r="2.8" fill="#d6d6d6"/><circle cx="482.0" cy="12.000000000000028" r="2.8" fill="#d6d6d6"/><rect x="475.0" y="9.600000000000028" width="7" height="4.8" fill="#d6d6d6"/><circle cx="475.0" cy="19.200000000000017" r="2.8" fill="#d6d6d6"/><circle cx="482.0" cy="19.200000000000017" r="2.8" fill="#d6d6d6"/><rect x="475.0" y="16.80000000000002" width="7" height="4.8" fill="#d6d6d6"/><circle cx="475.0" cy="26.325000000000017" r="2.8" fill="#d6d6d6"/><circle cx="482.0" cy="26.325000000000017" r="2.8" fill="#d6d6d6"/><rect x="475.0" y="23.92500000000002" width="7" height="4.8" fill="#d6d6d6"/><circle cx="478.5" cy="0.60" r="0.75" fill="#222"/><circle cx="478.5" cy="8.09" r="0.75" fill="#222"/><circle cx="478.5" cy="15.60" r="0.75" fill="#222"/><circle cx="478.5" cy="22.76" r="0.75" fill="#222"/><circle cx="478.5" cy="30.00" r="0.75" fill="#222"/><circle cx="606.0" cy="4.175000000000011" r="2.8" fill="#d6d6d6"/><circle cx="613.0" cy="4.175000000000011" r="2.8" fill="#d6d6d6"/><rect x="606.0" y="1.7750000000000115" width="7" height="4.8" fill="#d6d6d6"/><circle cx="606.0" cy="12.000000000000028" r="2.8" fill="#d6d6d6"/><circle cx="613.0" cy="12.000000000000028" r="2.8" fill="#d6d6d6"/><rect x="606.0" y="9.600000000000028" width="7" height="4.8" fill="#d6d6d6"/><circle cx="606.0" cy="19.200000000000017" r="2.8" fill="#d6d6d6"/><circle cx="613.0" cy="19.200000000000017" r="2.8" fill="#d6d6d6"/><rect x="606.0" y="16.80000000000002" width="7" height="4.8" fill="#d6d6d6"/><circle cx="606.0" cy="26.325000000000017" r="2.8" fill="#d6d6d6"/><circle cx="613.0" cy="26.325000000000017" r="2.8" fill="#d6d6d6"/><rect x="606.0" y="23.92500000000002" width="7" height="4.8" fill="#d6d6d6"/><circle cx="609.5" cy="0.60" r="0.75" fill="#222"/><circle cx="609.5" cy="8.09" r="0.75" fill="#222"/><circle cx="609.5" cy="15.60" r="0.75" fill="#222"/><circle cx="609.5" cy="22.76" r="0.75" fill="#222"/><circle cx="609.5" cy="30.00" r="0.75" fill="#222"/><circle cx="740.5" cy="4.175000000000011" r="2.8" fill="#d6d6d6"/><circle cx="747.5" cy="4.175000000000011" r="2.8" fill="#d6d6d6"/><rect x="740.5" y="1.7750000000000115" width="7" height="4.8" fill="#d6d6d6"/><circle cx="740.5" cy="12.000000000000028" r="2.8" fill="#d6d6d6"/><circle cx="747.5" cy="12.000000000000028" r="2.8" fill="#d6d6d6"/><rect x="740.5" y="9.600000000000028" width="7" height="4.8" fill="#d6d6d6"/><circle cx="740.5" cy="19.200000000000017" r="2.8" fill="#d6d6d6"/><circle cx="747.5" cy="19.200000000000017" r="2.8" fill="#d6d6d6"/><rect x="740.5" y="16.80000000000002" width="7" height="4.8" fill="#d6d6d6"/><circle cx="740.5" cy="26.325000000000017" r="2.8" fill="#d6d6d6"/><circle cx="747.5" cy="26.325000000000017" r="2.8" fill="#d6d6d6"/><rect x="740.5" y="23.92500000000002" width="7" height="4.8" fill="#d6d6d6"/><circle cx="744" cy="0.60" r="0.75" fill="#222"/><circle cx="744" cy="8.09" r="0.75" fill="#222"/><circle cx="744" cy="15.60" r="0.75" fill="#222"/><circle cx="744" cy="22.76" r="0.75" fill="#222"/><circle cx="744" cy="30.00" r="0.75" fill="#222"/><rect x="363.45" y="6.9" width="1.9" height="2.8" rx="0.6" fill="#666"/><rect x="363.45" y="21.2" width="1.9" height="2.8" rx="0.6" fill="#666"/><rect x="367.25" y="6.9" width="1.9" height="2.8" rx="0.6" fill="#666"/><rect x="367.25" y="21.2" width="1.9" height="2.8" rx="0.6" fill="#666"/><rect x="371.05" y="6.9" width="1.9" height="2.8" rx="0.6" fill="#666"/><rect x="371.05" y="21.2" width="1.9" height="2.8" rx="0.6" fill="#666"/><path d="M361.9 9.7 H373.6 V21.2 H363.7 L361.9 19.4 Z" fill="#fff" stroke="#5a5a5a" stroke-width="0.9"/><circle cx="368.1" cy="15.2" r="3.8" fill="none" stroke="#505050" stroke-width="0.95"/><rect x="407.45" y="6.9" width="1.9" height="2.8" rx="0.6" fill="#666"/><rect x="407.45" y="21.2" width="1.9" height="2.8" rx="0.6" fill="#666"/><rect x="411.25" y="6.9" width="1.9" height="2.8" rx="0.6" fill="#666"/><rect x="411.25" y="21.2" width="1.9" height="2.8" rx="0.6" fill="#666"/><rect x="415.05" y="6.9" width="1.9" height="2.8" rx="0.6" fill="#666"/><rect x="415.05" y="21.2" width="1.9" height="2.8" rx="0.6" fill="#666"/><path d="M405.9 9.7 H417.6 V21.2 H407.7 L405.9 19.4 Z" fill="#fff" stroke="#5a5a5a" stroke-width="0.9"/><circle cx="412.1" cy="15.2" r="3.8" fill="none" stroke="#505050" stroke-width="0.95"/><rect x="451.15" y="6.9" width="1.9" height="2.8" rx="0.6" fill="#666"/><rect x="451.15" y="21.2" width="1.9" height="2.8" rx="0.6" fill="#666"/><rect x="454.95" y="6.9" width="1.9" height="2.8" rx="0.6" fill="#666"/><rect x="454.95" y="21.2" width="1.9" height="2.8" rx="0.6" fill="#666"/><rect x="458.75" y="6.9" width="1.9" height="2.8" rx="0.6" fill="#666"/><rect x="458.75" y="21.2" width="1.9" height="2.8" rx="0.6" fill="#666"/><path d="M449.59999999999997 9.7 H461.3 V21.2 H451.4 L449.59999999999997 19.4 Z" fill="#fff" stroke="#5a5a5a" stroke-width="0.9"/><circle cx="455.8" cy="15.2" r="3.8" fill="none" stroke="#505050" stroke-width="0.95"/><rect x="495.95" y="6.9" width="1.9" height="2.8" rx="0.6" fill="#666"/><rect x="495.95" y="21.2" width="1.9" height="2.8" rx="0.6" fill="#666"/><rect x="499.75" y="6.9" width="1.9" height="2.8" rx="0.6" fill="#666"/><rect x="499.75" y="21.2" width="1.9" height="2.8" rx="0.6" fill="#666"/><rect x="503.55" y="6.9" width="1.9" height="2.8" rx="0.6" fill="#666"/><rect x="503.55" y="21.2" width="1.9" height="2.8" rx="0.6" fill="#666"/><path d="M494.4 9.7 H506.1 V21.2 H496.2 L494.4 19.4 Z" fill="#fff" stroke="#5a5a5a" stroke-width="0.9"/><circle cx="500.6" cy="15.2" r="3.8" fill="none" stroke="#505050" stroke-width="0.95"/><rect x="539.45" y="6.9" width="1.9" height="2.8" rx="0.6" fill="#666"/><rect x="539.45" y="21.2" width="1.9" height="2.8" rx="0.6" fill="#666"/><rect x="543.25" y="6.9" width="1.9" height="2.8" rx="0.6" fill="#666"/><rect x="543.25" y="21.2" width="1.9" height="2.8" rx="0.6" fill="#666"/><rect x="547.0500000000001" y="6.9" width="1.9" height="2.8" rx="0.6" fill="#666"/><rect x="547.0500000000001" y="21.2" width="1.9" height="2.8" rx="0.6" fill="#666"/><path d="M537.9 9.7 H549.6 V21.2 H539.7 L537.9 19.4 Z" fill="#fff" stroke="#5a5a5a" stroke-width="0.9"/><circle cx="544.1" cy="15.2" r="3.8" fill="none" stroke="#505050" stroke-width="0.95"/><rect x="583.1500000000001" y="6.9" width="1.9" height="2.8" rx="0.6" fill="#666"/><rect x="583.1500000000001" y="21.2" width="1.9" height="2.8" rx="0.6" fill="#666"/><rect x="586.95" y="6.9" width="1.9" height="2.8" rx="0.6" fill="#666"/><rect x="586.95" y="21.2" width="1.9" height="2.8" rx="0.6" fill="#666"/><rect x="590.7500000000001" y="6.9" width="1.9" height="2.8" rx="0.6" fill="#666"/><rect x="590.7500000000001" y="21.2" width="1.9" height="2.8" rx="0.6" fill="#666"/><path d="M581.6 9.7 H593.3000000000001 V21.2 H583.4000000000001 L581.6 19.4 Z" fill="#fff" stroke="#5a5a5a" stroke-width="0.9"/><circle cx="587.8000000000001" cy="15.2" r="3.8" fill="none" stroke="#505050" stroke-width="0.95"/><rect x="630.1500000000001" y="6.9" width="1.9" height="2.8" rx="0.6" fill="#666"/><rect x="630.1500000000001" y="21.2" width="1.9" height="2.8" rx="0.6" fill="#666"/><rect x="633.95" y="6.9" width="1.9" height="2.8" rx="0.6" fill="#666"/><rect x="633.95" y="21.2" width="1.9" height="2.8" rx="0.6" fill="#666"/><rect x="637.7500000000001" y="6.9" width="1.9" height="2.8" rx="0.6" fill="#666"/><rect x="637.7500000000001" y="21.2" width="1.9" height="2.8" rx="0.6" fill="#666"/><path d="M628.6 9.7 H640.3000000000001 V21.2 H630.4000000000001 L628.6 19.4 Z" fill="#fff" stroke="#5a5a5a" stroke-width="0.9"/><circle cx="634.8000000000001" cy="15.2" r="3.8" fill="none" stroke="#505050" stroke-width="0.95"/><rect x="673.95" y="6.9" width="1.9" height="2.8" rx="0.6" fill="#666"/><rect x="673.95" y="21.2" width="1.9" height="2.8" rx="0.6" fill="#666"/><rect x="677.75" y="6.9" width="1.9" height="2.8" rx="0.6" fill="#666"/><rect x="677.75" y="21.2" width="1.9" height="2.8" rx="0.6" fill="#666"/><rect x="681.5500000000001" y="6.9" width="1.9" height="2.8" rx="0.6" fill="#666"/><rect x="681.5500000000001" y="21.2" width="1.9" height="2.8" rx="0.6" fill="#666"/><path d="M672.4 9.7 H684.1 V21.2 H674.2 L672.4 19.4 Z" fill="#fff" stroke="#5a5a5a" stroke-width="0.9"/><circle cx="678.6" cy="15.2" r="3.8" fill="none" stroke="#505050" stroke-width="0.95"/><rect x="717.45" y="6.9" width="1.9" height="2.8" rx="0.6" fill="#666"/><rect x="717.45" y="21.2" width="1.9" height="2.8" rx="0.6" fill="#666"/><rect x="721.25" y="6.9" width="1.9" height="2.8" rx="0.6" fill="#666"/><rect x="721.25" y="21.2" width="1.9" height="2.8" rx="0.6" fill="#666"/><rect x="725.0500000000001" y="6.9" width="1.9" height="2.8" rx="0.6" fill="#666"/><rect x="725.0500000000001" y="21.2" width="1.9" height="2.8" rx="0.6" fill="#666"/><path d="M715.9 9.7 H727.6 V21.2 H717.7 L715.9 19.4 Z" fill="#fff" stroke="#5a5a5a" stroke-width="0.9"/><circle cx="722.1" cy="15.2" r="3.8" fill="none" stroke="#505050" stroke-width="0.95"/><rect x="771.45" y="6.9" width="1.9" height="2.8" rx="0.6" fill="#666"/><rect x="771.45" y="21.2" width="1.9" height="2.8" rx="0.6" fill="#666"/><rect x="775.25" y="6.9" width="1.9" height="2.8" rx="0.6" fill="#666"/><rect x="775.25" y="21.2" width="1.9" height="2.8" rx="0.6" fill="#666"/><rect x="779.0500000000001" y="6.9" width="1.9" height="2.8" rx="0.6" fill="#666"/><rect x="779.0500000000001" y="21.2" width="1.9" height="2.8" rx="0.6" fill="#666"/><path d="M769.9 9.7 H781.6 V21.2 H771.7 L769.9 19.4 Z" fill="#fff" stroke="#5a5a5a" stroke-width="0.9"/><circle cx="776.1" cy="15.2" r="3.8" fill="none" stroke="#505050" stroke-width="0.95"/><rect x="811.35" y="6.9" width="1.9" height="2.8" rx="0.6" fill="#666"/><rect x="811.35" y="21.2" width="1.9" height="2.8" rx="0.6" fill="#666"/><rect x="815.15" y="6.9" width="1.9" height="2.8" rx="0.6" fill="#666"/><rect x="815.15" y="21.2" width="1.9" height="2.8" rx="0.6" fill="#666"/><rect x="818.95" y="6.9" width="1.9" height="2.8" rx="0.6" fill="#666"/><rect x="818.95" y="21.2" width="1.9" height="2.8" rx="0.6" fill="#666"/><path d="M809.8 9.7 H821.5 V21.2 H811.6 L809.8 19.4 Z" fill="#fff" stroke="#5a5a5a" stroke-width="0.9"/><circle cx="816.0" cy="15.2" r="3.8" fill="none" stroke="#505050" stroke-width="0.95"/><rect x="852.1500000000001" y="6.9" width="1.9" height="2.8" rx="0.6" fill="#666"/><rect x="852.1500000000001" y="21.2" width="1.9" height="2.8" rx="0.6" fill="#666"/><rect x="855.95" y="6.9" width="1.9" height="2.8" rx="0.6" fill="#666"/><rect x="855.95" y="21.2" width="1.9" height="2.8" rx="0.6" fill="#666"/><rect x="859.7500000000001" y="6.9" width="1.9" height="2.8" rx="0.6" fill="#666"/><rect x="859.7500000000001" y="21.2" width="1.9" height="2.8" rx="0.6" fill="#666"/><path d="M850.6 9.7 H862.3000000000001 V21.2 H852.4000000000001 L850.6 19.4 Z" fill="#fff" stroke="#5a5a5a" stroke-width="0.9"/><circle cx="856.8000000000001" cy="15.2" r="3.8" fill="none" stroke="#505050" stroke-width="0.95"/><rect x="388" y="11.4" width="3" height="7.7" rx="1.5" fill="#231f20"/><rect x="520" y="11.4" width="3" height="7.7" rx="1.5" fill="#231f20"/><rect x="653.3" y="11.4" width="3" height="7.7" rx="1.5" fill="#231f20"/><rect x="429.5" y="11.4" width="3" height="7.7" rx="1.5" fill="#231f20"/><rect x="434.5" y="11.4" width="3" height="7.7" rx="1.5" fill="#231f20"/><rect x="562.5" y="11.4" width="3" height="7.7" rx="1.5" fill="#231f20"/><rect x="567.5" y="11.4" width="3" height="7.7" rx="1.5" fill="#231f20"/><rect x="697" y="11.4" width="3" height="7.7" rx="1.5" fill="#231f20"/><rect x="702" y="11.4" width="3" height="7.7" rx="1.5" fill="#231f20"/><rect x="831.6" y="11.4" width="3" height="7.7" rx="1.5" fill="#231f20"/><rect x="836.6" y="11.4" width="3" height="7.7" rx="1.5" fill="#231f20"/><path d="M799.3 -8.5 C799.3 15.5, 777 15.5, 777 40 L787.1 40 C787.1 15.5, 809.7 15.5, 809.7 -8.5 Z" fill="#fff" stroke="#fff" stroke-width="1.6"/><path d="M799.3 -8.5 C799.3 15.5, 777 15.5, 777 40" fill="none" stroke="#333" stroke-width="1"/><path d="M809.7 -8.5 C809.7 15.5, 787.1 15.5, 787.1 40" fill="none" stroke="#333" stroke-width="1"/></g>
<g transform="translate(-1.2 501.3)"><rect x="337.3" y="0" width="558.2" height="31" fill="#fff" stroke="#666" stroke-width="1.35"/><path d="M284.7 3.849999999999966 H343" stroke="#231f20" stroke-width="3.3"/><path d="M891 3.9499999999999886 H959.5" stroke="#231f20" stroke-width="3.3"/><path d="M276.3 11.800000000000011 H343" stroke="#16a04e" stroke-width="3.3"/><path d="M891 12.199999999999989 H967.3000000000001" stroke="#16a04e" stroke-width="3.3"/><path d="M279.3 18.650000000000034 H343" stroke="#e0232b" stroke-width="3.3"/><path d="M891 19.099999999999966 H964.6" stroke="#e0232b" stroke-width="3.3"/><path d="M282.09999999999997 25.599999999999966 H343" stroke="#2e3192" stroke-width="3.3"/><path d="M891 26.30000000000001 H962.1" stroke="#2e3192" stroke-width="3.3"/><circle cx="344.2" cy="3.849999999999966" r="2.7" fill="#d6d6d6"/><circle cx="344.2" cy="11.800000000000011" r="2.7" fill="#d6d6d6"/><circle cx="344.2" cy="18.650000000000034" r="2.7" fill="#d6d6d6"/><circle cx="344.2" cy="25.599999999999966" r="2.7" fill="#d6d6d6"/><circle cx="889.8" cy="3.9499999999999886" r="2.7" fill="#d6d6d6"/><circle cx="889.8" cy="12.199999999999989" r="2.7" fill="#d6d6d6"/><circle cx="889.8" cy="19.099999999999966" r="2.7" fill="#d6d6d6"/><circle cx="889.8" cy="26.30000000000001" r="2.7" fill="#d6d6d6"/><text x="347.8" y="5.649999999999966" font-size="5.2" fill="#444" stroke="#444" stroke-width="0.25" textLength="3.9" lengthAdjust="spacingAndGlyphs">+</text><text x="347.8" y="13.600000000000012" font-size="5.2" fill="#444" stroke="#444" stroke-width="0.25" textLength="3.9" lengthAdjust="spacingAndGlyphs">G</text><text x="347.8" y="20.450000000000035" font-size="5.2" fill="#444" stroke="#444" stroke-width="0.25" textLength="3.9" lengthAdjust="spacingAndGlyphs">R</text><text x="347.8" y="27.399999999999967" font-size="5.2" fill="#444" stroke="#444" stroke-width="0.25" textLength="3.9" lengthAdjust="spacingAndGlyphs">B</text><text x="466.3" y="5.699999999999977" font-size="5.2" fill="#444" stroke="#444" stroke-width="0.25" textLength="3.9" lengthAdjust="spacingAndGlyphs">+</text><text x="466.3" y="13.8" font-size="5.2" fill="#444" stroke="#444" stroke-width="0.25" textLength="3.9" lengthAdjust="spacingAndGlyphs">G</text><text x="466.3" y="20.675" font-size="5.2" fill="#444" stroke="#444" stroke-width="0.25" textLength="3.9" lengthAdjust="spacingAndGlyphs">R</text><text x="466.3" y="27.74999999999999" font-size="5.2" fill="#444" stroke="#444" stroke-width="0.25" textLength="3.9" lengthAdjust="spacingAndGlyphs">B</text><text x="486.3" y="5.699999999999977" font-size="5.2" fill="#444" stroke="#444" stroke-width="0.25" textLength="3.9" lengthAdjust="spacingAndGlyphs">+</text><text x="486.3" y="13.8" font-size="5.2" fill="#444" stroke="#444" stroke-width="0.25" textLength="3.9" lengthAdjust="spacingAndGlyphs">G</text><text x="486.3" y="20.675" font-size="5.2" fill="#444" stroke="#444" stroke-width="0.25" textLength="3.9" lengthAdjust="spacingAndGlyphs">R</text><text x="486.3" y="27.74999999999999" font-size="5.2" fill="#444" stroke="#444" stroke-width="0.25" textLength="3.9" lengthAdjust="spacingAndGlyphs">B</text><text x="597.3" y="5.699999999999977" font-size="5.2" fill="#444" stroke="#444" stroke-width="0.25" textLength="3.9" lengthAdjust="spacingAndGlyphs">+</text><text x="597.3" y="13.8" font-size="5.2" fill="#444" stroke="#444" stroke-width="0.25" textLength="3.9" lengthAdjust="spacingAndGlyphs">G</text><text x="597.3" y="20.675" font-size="5.2" fill="#444" stroke="#444" stroke-width="0.25" textLength="3.9" lengthAdjust="spacingAndGlyphs">R</text><text x="597.3" y="27.74999999999999" font-size="5.2" fill="#444" stroke="#444" stroke-width="0.25" textLength="3.9" lengthAdjust="spacingAndGlyphs">B</text><text x="617.8" y="5.699999999999977" font-size="5.2" fill="#444" stroke="#444" stroke-width="0.25" textLength="3.9" lengthAdjust="spacingAndGlyphs">+</text><text x="617.8" y="13.8" font-size="5.2" fill="#444" stroke="#444" stroke-width="0.25" textLength="3.9" lengthAdjust="spacingAndGlyphs">G</text><text x="617.8" y="20.675" font-size="5.2" fill="#444" stroke="#444" stroke-width="0.25" textLength="3.9" lengthAdjust="spacingAndGlyphs">R</text><text x="617.8" y="27.74999999999999" font-size="5.2" fill="#444" stroke="#444" stroke-width="0.25" textLength="3.9" lengthAdjust="spacingAndGlyphs">B</text><text x="731.8" y="5.699999999999977" font-size="5.2" fill="#444" stroke="#444" stroke-width="0.25" textLength="3.9" lengthAdjust="spacingAndGlyphs">+</text><text x="731.8" y="13.8" font-size="5.2" fill="#444" stroke="#444" stroke-width="0.25" textLength="3.9" lengthAdjust="spacingAndGlyphs">G</text><text x="731.8" y="20.675" font-size="5.2" fill="#444" stroke="#444" stroke-width="0.25" textLength="3.9" lengthAdjust="spacingAndGlyphs">R</text><text x="731.8" y="27.74999999999999" font-size="5.2" fill="#444" stroke="#444" stroke-width="0.25" textLength="3.9" lengthAdjust="spacingAndGlyphs">B</text><text x="752.3" y="5.699999999999977" font-size="5.2" fill="#444" stroke="#444" stroke-width="0.25" textLength="3.9" lengthAdjust="spacingAndGlyphs">+</text><text x="752.3" y="13.8" font-size="5.2" fill="#444" stroke="#444" stroke-width="0.25" textLength="3.9" lengthAdjust="spacingAndGlyphs">G</text><text x="752.3" y="20.675" font-size="5.2" fill="#444" stroke="#444" stroke-width="0.25" textLength="3.9" lengthAdjust="spacingAndGlyphs">R</text><text x="752.3" y="27.74999999999999" font-size="5.2" fill="#444" stroke="#444" stroke-width="0.25" textLength="3.9" lengthAdjust="spacingAndGlyphs">B</text><text x="881.1999999999999" y="5.7499999999999885" font-size="5.2" fill="#444" stroke="#444" stroke-width="0.25" textLength="3.9" lengthAdjust="spacingAndGlyphs">+</text><text x="881.1999999999999" y="13.99999999999999" font-size="5.2" fill="#444" stroke="#444" stroke-width="0.25" textLength="3.9" lengthAdjust="spacingAndGlyphs">G</text><text x="881.1999999999999" y="20.899999999999967" font-size="5.2" fill="#444" stroke="#444" stroke-width="0.25" textLength="3.9" lengthAdjust="spacingAndGlyphs">R</text><text x="881.1999999999999" y="28.100000000000012" font-size="5.2" fill="#444" stroke="#444" stroke-width="0.25" textLength="3.9" lengthAdjust="spacingAndGlyphs">B</text><text x="354" y="5.5" font-size="4.4" fill="#333" stroke="#333" stroke-width="0.28" textLength="14.5" lengthAdjust="spacingAndGlyphs">DC12V</text><text x="447" y="5.5" font-size="4.4" fill="#333" stroke="#333" stroke-width="0.28" textLength="14.5" lengthAdjust="spacingAndGlyphs">DC12V</text><text x="495" y="5.5" font-size="4.4" fill="#333" stroke="#333" stroke-width="0.28" textLength="14.5" lengthAdjust="spacingAndGlyphs">DC12V</text><text x="578.2" y="5.5" font-size="4.4" fill="#333" stroke="#333" stroke-width="0.28" textLength="14.5" lengthAdjust="spacingAndGlyphs">DC12V</text><text x="626" y="5.5" font-size="4.4" fill="#333" stroke="#333" stroke-width="0.28" textLength="14.5" lengthAdjust="spacingAndGlyphs">DC12V</text><text x="713" y="5.5" font-size="4.4" fill="#333" stroke="#333" stroke-width="0.28" textLength="14.5" lengthAdjust="spacingAndGlyphs">DC12V</text><text x="761" y="5.5" font-size="4.4" fill="#333" stroke="#333" stroke-width="0.28" textLength="14.5" lengthAdjust="spacingAndGlyphs">DC12V</text><text x="864" y="5.5" font-size="4.4" fill="#333" stroke="#333" stroke-width="0.28" textLength="14.5" lengthAdjust="spacingAndGlyphs">DC12V</text><circle cx="475.0" cy="3.8999999999999773" r="2.8" fill="#d6d6d6"/><circle cx="482.0" cy="3.8999999999999773" r="2.8" fill="#d6d6d6"/><rect x="475.0" y="1.4999999999999774" width="7" height="4.8" fill="#d6d6d6"/><circle cx="475.0" cy="12.0" r="2.8" fill="#d6d6d6"/><circle cx="482.0" cy="12.0" r="2.8" fill="#d6d6d6"/><rect x="475.0" y="9.6" width="7" height="4.8" fill="#d6d6d6"/><circle cx="475.0" cy="18.875" r="2.8" fill="#d6d6d6"/><circle cx="482.0" cy="18.875" r="2.8" fill="#d6d6d6"/><rect x="475.0" y="16.475" width="7" height="4.8" fill="#d6d6d6"/><circle cx="475.0" cy="25.94999999999999" r="2.8" fill="#d6d6d6"/><circle cx="482.0" cy="25.94999999999999" r="2.8" fill="#d6d6d6"/><rect x="475.0" y="23.54999999999999" width="7" height="4.8" fill="#d6d6d6"/><circle cx="478.5" cy="0.60" r="0.75" fill="#222"/><circle cx="478.5" cy="7.95" r="0.75" fill="#222"/><circle cx="478.5" cy="15.44" r="0.75" fill="#222"/><circle cx="478.5" cy="22.41" r="0.75" fill="#222"/><circle cx="478.5" cy="30.40" r="0.75" fill="#222"/><circle cx="606.0" cy="3.8999999999999773" r="2.8" fill="#d6d6d6"/><circle cx="613.0" cy="3.8999999999999773" r="2.8" fill="#d6d6d6"/><rect x="606.0" y="1.4999999999999774" width="7" height="4.8" fill="#d6d6d6"/><circle cx="606.0" cy="12.0" r="2.8" fill="#d6d6d6"/><circle cx="613.0" cy="12.0" r="2.8" fill="#d6d6d6"/><rect x="606.0" y="9.6" width="7" height="4.8" fill="#d6d6d6"/><circle cx="606.0" cy="18.875" r="2.8" fill="#d6d6d6"/><circle cx="613.0" cy="18.875" r="2.8" fill="#d6d6d6"/><rect x="606.0" y="16.475" width="7" height="4.8" fill="#d6d6d6"/><circle cx="606.0" cy="25.94999999999999" r="2.8" fill="#d6d6d6"/><circle cx="613.0" cy="25.94999999999999" r="2.8" fill="#d6d6d6"/><rect x="606.0" y="23.54999999999999" width="7" height="4.8" fill="#d6d6d6"/><circle cx="609.5" cy="0.60" r="0.75" fill="#222"/><circle cx="609.5" cy="7.95" r="0.75" fill="#222"/><circle cx="609.5" cy="15.44" r="0.75" fill="#222"/><circle cx="609.5" cy="22.41" r="0.75" fill="#222"/><circle cx="609.5" cy="30.40" r="0.75" fill="#222"/><circle cx="740.5" cy="3.8999999999999773" r="2.8" fill="#d6d6d6"/><circle cx="747.5" cy="3.8999999999999773" r="2.8" fill="#d6d6d6"/><rect x="740.5" y="1.4999999999999774" width="7" height="4.8" fill="#d6d6d6"/><circle cx="740.5" cy="12.0" r="2.8" fill="#d6d6d6"/><circle cx="747.5" cy="12.0" r="2.8" fill="#d6d6d6"/><rect x="740.5" y="9.6" width="7" height="4.8" fill="#d6d6d6"/><circle cx="740.5" cy="18.875" r="2.8" fill="#d6d6d6"/><circle cx="747.5" cy="18.875" r="2.8" fill="#d6d6d6"/><rect x="740.5" y="16.475" width="7" height="4.8" fill="#d6d6d6"/><circle cx="740.5" cy="25.94999999999999" r="2.8" fill="#d6d6d6"/><circle cx="747.5" cy="25.94999999999999" r="2.8" fill="#d6d6d6"/><rect x="740.5" y="23.54999999999999" width="7" height="4.8" fill="#d6d6d6"/><circle cx="744" cy="0.60" r="0.75" fill="#222"/><circle cx="744" cy="7.95" r="0.75" fill="#222"/><circle cx="744" cy="15.44" r="0.75" fill="#222"/><circle cx="744" cy="22.41" r="0.75" fill="#222"/><circle cx="744" cy="30.40" r="0.75" fill="#222"/><rect x="363.45" y="6.9" width="1.9" height="2.8" rx="0.6" fill="#666"/><rect x="363.45" y="21.2" width="1.9" height="2.8" rx="0.6" fill="#666"/><rect x="367.25" y="6.9" width="1.9" height="2.8" rx="0.6" fill="#666"/><rect x="367.25" y="21.2" width="1.9" height="2.8" rx="0.6" fill="#666"/><rect x="371.05" y="6.9" width="1.9" height="2.8" rx="0.6" fill="#666"/><rect x="371.05" y="21.2" width="1.9" height="2.8" rx="0.6" fill="#666"/><path d="M361.9 9.7 H373.6 V21.2 H363.7 L361.9 19.4 Z" fill="#fff" stroke="#5a5a5a" stroke-width="0.9"/><circle cx="368.1" cy="15.2" r="3.8" fill="none" stroke="#505050" stroke-width="0.95"/><rect x="407.45" y="6.9" width="1.9" height="2.8" rx="0.6" fill="#666"/><rect x="407.45" y="21.2" width="1.9" height="2.8" rx="0.6" fill="#666"/><rect x="411.25" y="6.9" width="1.9" height="2.8" rx="0.6" fill="#666"/><rect x="411.25" y="21.2" width="1.9" height="2.8" rx="0.6" fill="#666"/><rect x="415.05" y="6.9" width="1.9" height="2.8" rx="0.6" fill="#666"/><rect x="415.05" y="21.2" width="1.9" height="2.8" rx="0.6" fill="#666"/><path d="M405.9 9.7 H417.6 V21.2 H407.7 L405.9 19.4 Z" fill="#fff" stroke="#5a5a5a" stroke-width="0.9"/><circle cx="412.1" cy="15.2" r="3.8" fill="none" stroke="#505050" stroke-width="0.95"/><rect x="451.15" y="6.9" width="1.9" height="2.8" rx="0.6" fill="#666"/><rect x="451.15" y="21.2" width="1.9" height="2.8" rx="0.6" fill="#666"/><rect x="454.95" y="6.9" width="1.9" height="2.8" rx="0.6" fill="#666"/><rect x="454.95" y="21.2" width="1.9" height="2.8" rx="0.6" fill="#666"/><rect x="458.75" y="6.9" width="1.9" height="2.8" rx="0.6" fill="#666"/><rect x="458.75" y="21.2" width="1.9" height="2.8" rx="0.6" fill="#666"/><path d="M449.59999999999997 9.7 H461.3 V21.2 H451.4 L449.59999999999997 19.4 Z" fill="#fff" stroke="#5a5a5a" stroke-width="0.9"/><circle cx="455.8" cy="15.2" r="3.8" fill="none" stroke="#505050" stroke-width="0.95"/><rect x="495.95" y="6.9" width="1.9" height="2.8" rx="0.6" fill="#666"/><rect x="495.95" y="21.2" width="1.9" height="2.8" rx="0.6" fill="#666"/><rect x="499.75" y="6.9" width="1.9" height="2.8" rx="0.6" fill="#666"/><rect x="499.75" y="21.2" width="1.9" height="2.8" rx="0.6" fill="#666"/><rect x="503.55" y="6.9" width="1.9" height="2.8" rx="0.6" fill="#666"/><rect x="503.55" y="21.2" width="1.9" height="2.8" rx="0.6" fill="#666"/><path d="M494.4 9.7 H506.1 V21.2 H496.2 L494.4 19.4 Z" fill="#fff" stroke="#5a5a5a" stroke-width="0.9"/><circle cx="500.6" cy="15.2" r="3.8" fill="none" stroke="#505050" stroke-width="0.95"/><rect x="539.45" y="6.9" width="1.9" height="2.8" rx="0.6" fill="#666"/><rect x="539.45" y="21.2" width="1.9" height="2.8" rx="0.6" fill="#666"/><rect x="543.25" y="6.9" width="1.9" height="2.8" rx="0.6" fill="#666"/><rect x="543.25" y="21.2" width="1.9" height="2.8" rx="0.6" fill="#666"/><rect x="547.0500000000001" y="6.9" width="1.9" height="2.8" rx="0.6" fill="#666"/><rect x="547.0500000000001" y="21.2" width="1.9" height="2.8" rx="0.6" fill="#666"/><path d="M537.9 9.7 H549.6 V21.2 H539.7 L537.9 19.4 Z" fill="#fff" stroke="#5a5a5a" stroke-width="0.9"/><circle cx="544.1" cy="15.2" r="3.8" fill="none" stroke="#505050" stroke-width="0.95"/><rect x="583.1500000000001" y="6.9" width="1.9" height="2.8" rx="0.6" fill="#666"/><rect x="583.1500000000001" y="21.2" width="1.9" height="2.8" rx="0.6" fill="#666"/><rect x="586.95" y="6.9" width="1.9" height="2.8" rx="0.6" fill="#666"/><rect x="586.95" y="21.2" width="1.9" height="2.8" rx="0.6" fill="#666"/><rect x="590.7500000000001" y="6.9" width="1.9" height="2.8" rx="0.6" fill="#666"/><rect x="590.7500000000001" y="21.2" width="1.9" height="2.8" rx="0.6" fill="#666"/><path d="M581.6 9.7 H593.3000000000001 V21.2 H583.4000000000001 L581.6 19.4 Z" fill="#fff" stroke="#5a5a5a" stroke-width="0.9"/><circle cx="587.8000000000001" cy="15.2" r="3.8" fill="none" stroke="#505050" stroke-width="0.95"/><rect x="630.1500000000001" y="6.9" width="1.9" height="2.8" rx="0.6" fill="#666"/><rect x="630.1500000000001" y="21.2" width="1.9" height="2.8" rx="0.6" fill="#666"/><rect x="633.95" y="6.9" width="1.9" height="2.8" rx="0.6" fill="#666"/><rect x="633.95" y="21.2" width="1.9" height="2.8" rx="0.6" fill="#666"/><rect x="637.7500000000001" y="6.9" width="1.9" height="2.8" rx="0.6" fill="#666"/><rect x="637.7500000000001" y="21.2" width="1.9" height="2.8" rx="0.6" fill="#666"/><path d="M628.6 9.7 H640.3000000000001 V21.2 H630.4000000000001 L628.6 19.4 Z" fill="#fff" stroke="#5a5a5a" stroke-width="0.9"/><circle cx="634.8000000000001" cy="15.2" r="3.8" fill="none" stroke="#505050" stroke-width="0.95"/><rect x="673.95" y="6.9" width="1.9" height="2.8" rx="0.6" fill="#666"/><rect x="673.95" y="21.2" width="1.9" height="2.8" rx="0.6" fill="#666"/><rect x="677.75" y="6.9" width="1.9" height="2.8" rx="0.6" fill="#666"/><rect x="677.75" y="21.2" width="1.9" height="2.8" rx="0.6" fill="#666"/><rect x="681.5500000000001" y="6.9" width="1.9" height="2.8" rx="0.6" fill="#666"/><rect x="681.5500000000001" y="21.2" width="1.9" height="2.8" rx="0.6" fill="#666"/><path d="M672.4 9.7 H684.1 V21.2 H674.2 L672.4 19.4 Z" fill="#fff" stroke="#5a5a5a" stroke-width="0.9"/><circle cx="678.6" cy="15.2" r="3.8" fill="none" stroke="#505050" stroke-width="0.95"/><rect x="717.45" y="6.9" width="1.9" height="2.8" rx="0.6" fill="#666"/><rect x="717.45" y="21.2" width="1.9" height="2.8" rx="0.6" fill="#666"/><rect x="721.25" y="6.9" width="1.9" height="2.8" rx="0.6" fill="#666"/><rect x="721.25" y="21.2" width="1.9" height="2.8" rx="0.6" fill="#666"/><rect x="725.0500000000001" y="6.9" width="1.9" height="2.8" rx="0.6" fill="#666"/><rect x="725.0500000000001" y="21.2" width="1.9" height="2.8" rx="0.6" fill="#666"/><path d="M715.9 9.7 H727.6 V21.2 H717.7 L715.9 19.4 Z" fill="#fff" stroke="#5a5a5a" stroke-width="0.9"/><circle cx="722.1" cy="15.2" r="3.8" fill="none" stroke="#505050" stroke-width="0.95"/><rect x="771.45" y="6.9" width="1.9" height="2.8" rx="0.6" fill="#666"/><rect x="771.45" y="21.2" width="1.9" height="2.8" rx="0.6" fill="#666"/><rect x="775.25" y="6.9" width="1.9" height="2.8" rx="0.6" fill="#666"/><rect x="775.25" y="21.2" width="1.9" height="2.8" rx="0.6" fill="#666"/><rect x="779.0500000000001" y="6.9" width="1.9" height="2.8" rx="0.6" fill="#666"/><rect x="779.0500000000001" y="21.2" width="1.9" height="2.8" rx="0.6" fill="#666"/><path d="M769.9 9.7 H781.6 V21.2 H771.7 L769.9 19.4 Z" fill="#fff" stroke="#5a5a5a" stroke-width="0.9"/><circle cx="776.1" cy="15.2" r="3.8" fill="none" stroke="#505050" stroke-width="0.95"/><rect x="811.35" y="6.9" width="1.9" height="2.8" rx="0.6" fill="#666"/><rect x="811.35" y="21.2" width="1.9" height="2.8" rx="0.6" fill="#666"/><rect x="815.15" y="6.9" width="1.9" height="2.8" rx="0.6" fill="#666"/><rect x="815.15" y="21.2" width="1.9" height="2.8" rx="0.6" fill="#666"/><rect x="818.95" y="6.9" width="1.9" height="2.8" rx="0.6" fill="#666"/><rect x="818.95" y="21.2" width="1.9" height="2.8" rx="0.6" fill="#666"/><path d="M809.8 9.7 H821.5 V21.2 H811.6 L809.8 19.4 Z" fill="#fff" stroke="#5a5a5a" stroke-width="0.9"/><circle cx="816.0" cy="15.2" r="3.8" fill="none" stroke="#505050" stroke-width="0.95"/><rect x="852.1500000000001" y="6.9" width="1.9" height="2.8" rx="0.6" fill="#666"/><rect x="852.1500000000001" y="21.2" width="1.9" height="2.8" rx="0.6" fill="#666"/><rect x="855.95" y="6.9" width="1.9" height="2.8" rx="0.6" fill="#666"/><rect x="855.95" y="21.2" width="1.9" height="2.8" rx="0.6" fill="#666"/><rect x="859.7500000000001" y="6.9" width="1.9" height="2.8" rx="0.6" fill="#666"/><rect x="859.7500000000001" y="21.2" width="1.9" height="2.8" rx="0.6" fill="#666"/><path d="M850.6 9.7 H862.3000000000001 V21.2 H852.4000000000001 L850.6 19.4 Z" fill="#fff" stroke="#5a5a5a" stroke-width="0.9"/><circle cx="856.8000000000001" cy="15.2" r="3.8" fill="none" stroke="#505050" stroke-width="0.95"/><rect x="388" y="11.4" width="3" height="7.7" rx="1.5" fill="#231f20"/><rect x="520" y="11.4" width="3" height="7.7" rx="1.5" fill="#231f20"/><rect x="653.3" y="11.4" width="3" height="7.7" rx="1.5" fill="#231f20"/><rect x="429.5" y="11.4" width="3" height="7.7" rx="1.5" fill="#231f20"/><rect x="434.5" y="11.4" width="3" height="7.7" rx="1.5" fill="#231f20"/><rect x="562.5" y="11.4" width="3" height="7.7" rx="1.5" fill="#231f20"/><rect x="567.5" y="11.4" width="3" height="7.7" rx="1.5" fill="#231f20"/><rect x="697" y="11.4" width="3" height="7.7" rx="1.5" fill="#231f20"/><rect x="702" y="11.4" width="3" height="7.7" rx="1.5" fill="#231f20"/><rect x="831.6" y="11.4" width="3" height="7.7" rx="1.5" fill="#231f20"/><rect x="836.6" y="11.4" width="3" height="7.7" rx="1.5" fill="#231f20"/><path d="M798 0 C797.7 9, 793.2 13, 788.2 17.5 C783.2 22, 779.7 27, 778.4 31 L788.6 31 C789.9 27, 793.4 22, 798.4 17.5 C803.4 13, 807.9 9, 808.6 0 Z" fill="#fff" stroke="#fff" stroke-width="1.6"/><path d="M798 0 C797.7 9, 793.2 13, 788.2 17.5 C783.2 22, 779.7 27, 778.4 31" fill="none" stroke="#333" stroke-width="1"/><path d="M808.6 0 C807.9 9, 803.4 13, 798.4 17.5 C793.4 22, 789.9 27, 788.6 31" fill="none" stroke="#333" stroke-width="1"/></g>
</svg></body></html>
